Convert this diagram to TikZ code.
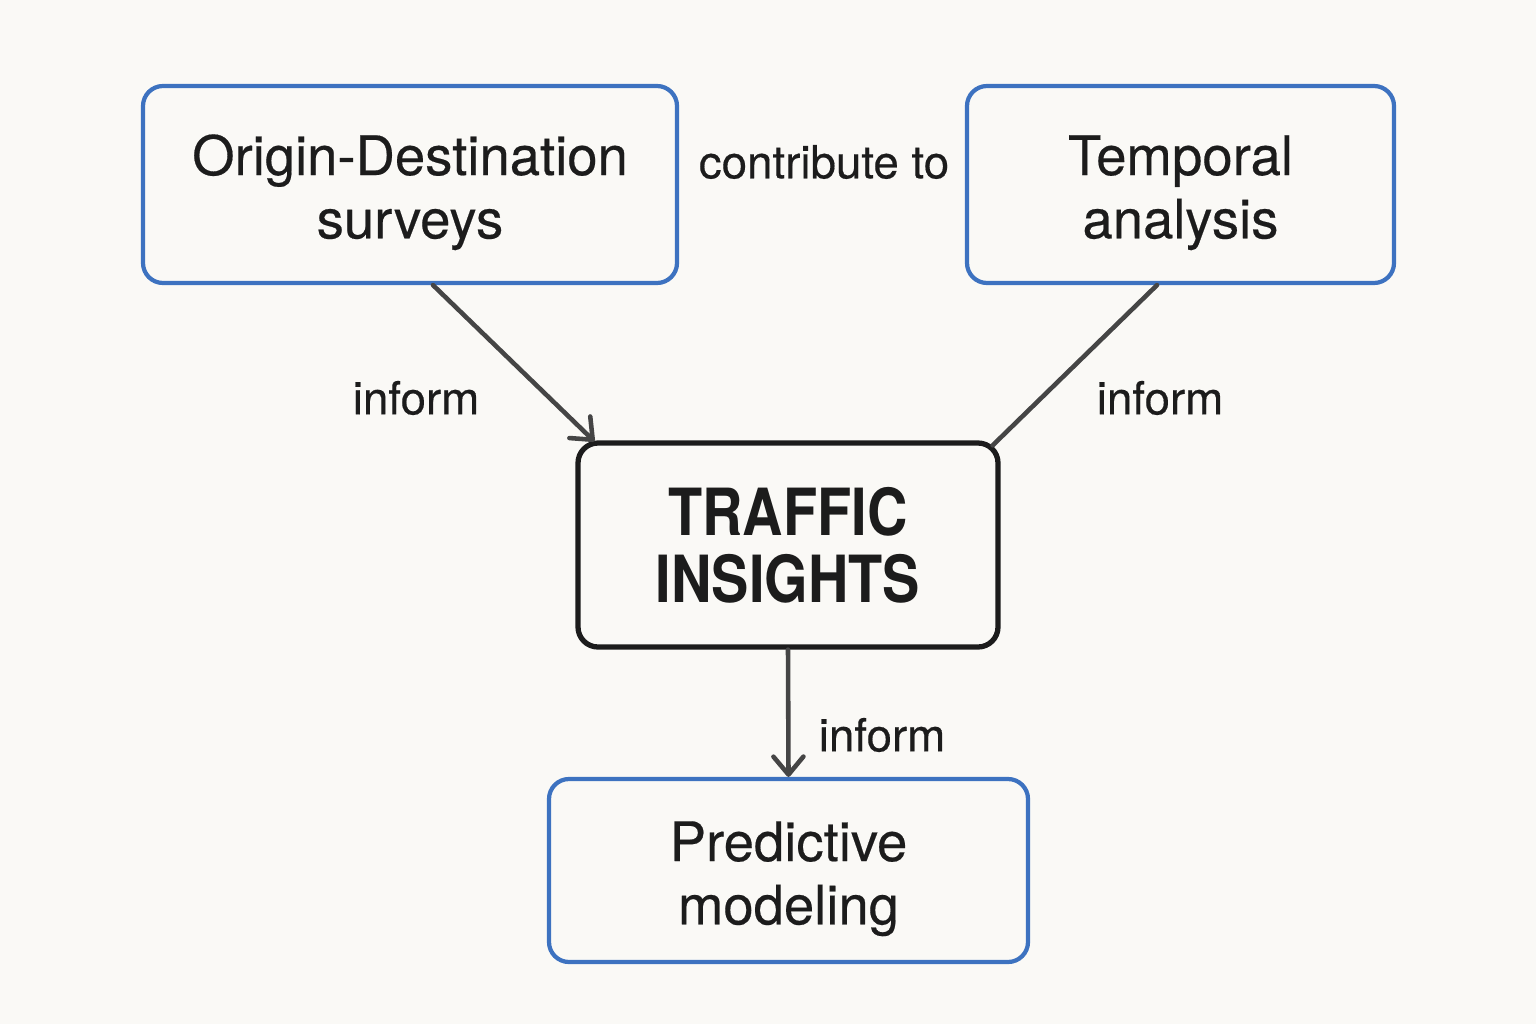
\documentclass[tikz,border=0pt]{standalone}
\usepackage{fontspec}
\setmainfont{TeX Gyre Heros}[FakeBold=0.35]
\newfontfamily\corefont{TeX Gyre Heros}[FakeStretch=0.86]
\usetikzlibrary{arrows.meta}
\definecolor{bg}{HTML}{FAF9F6}
\definecolor{boxblue}{HTML}{3D72C0}
\definecolor{ink}{HTML}{1C1C1C}
\definecolor{linkgray}{HTML}{454545}
\newcommand{\tstrut}{\rule{0pt}{16pt}}
\tikzset{
  bluebox/.style={draw=boxblue, line width=1.2pt, rounded corners=0.2cm, fill=bg,
    align=center, text=ink, inner sep=0pt, font=\fontsize{15.5}{18}\selectfont},
  corebox/.style={draw=ink, line width=1.5pt, rounded corners=0.2cm, fill=bg,
    align=center, text=ink, inner sep=0pt, font=\corefont\bfseries\fontsize{18.5}{19}\selectfont},
  link/.style={draw=linkgray, line width=1.3pt, line cap=round},
  linkarrow/.style={link, -{Straight Barb[length=1.8mm, width=3.0mm, line width=1.3pt, round]}},
  lbl/.style={text=ink, font=\fontsize{13}{15}\selectfont, inner sep=0pt}
}
\begin{document}
\begin{tikzpicture}
\useasboundingbox (0,0) rectangle (15.36,10.24);
\fill[bg] (0,0) rectangle (15.36,10.24);

\node[bluebox, minimum width=5.34cm, minimum height=1.97cm] (od) at (4.10,8.395) {\tstrut Origin-Destination\\surveys};
\node[bluebox, minimum width=4.27cm, minimum height=1.97cm] (ta) at (11.805,8.395) {\tstrut Temporal\\analysis};
\node[corebox, minimum width=4.20cm, minimum height=2.04cm] (ti) at (7.88,4.79) {TRAFFIC\\INSIGHTS};
\node[bluebox, minimum width=4.79cm, minimum height=1.83cm] (pm) at (7.885,1.535) {\tstrut Predictive\\modeling};

\draw[linkarrow] ([xshift=0.23cm]od.south) -- ([xshift=0.19cm, yshift=-0.01cm]ti.north west);
\draw[link] ([xshift=-0.235cm]ta.south) -- ([xshift=-0.08cm, yshift=-0.05cm]ti.north east);
\draw[linkarrow] (ti.south) -- (pm.north);

\node[lbl] (l0) at (8.24,8.62) {contribute to};
\node[lbl] (l1) at (4.16,6.26) {inform};
\node[lbl] (l2) at (11.60,6.26) {inform};
\node[lbl] (l3) at (8.82,2.89) {inform};
\end{tikzpicture}
\end{document}
